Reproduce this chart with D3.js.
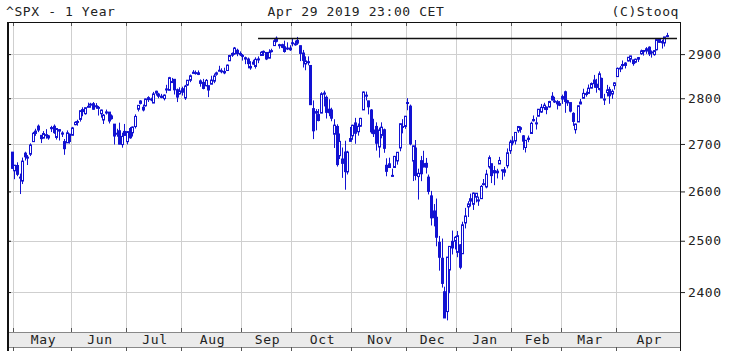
<!DOCTYPE html>
<html>
<head>
<meta charset="utf-8">
<script src="https://cdn.jsdelivr.net/npm/d3@7"></script>
<style>
  html, body { margin: 0; padding: 0; background: #fff; }
  svg { display: block; }
  text { font-family: "DejaVu Sans Mono", monospace; font-size: 13px; letter-spacing: 0.6px; fill: #222; }
</style>
</head>
<body>
<svg id="chart" width="729" height="351"></svg>
<script>
// ^SPX daily candles, [day, open, high, low, close]
const APR18 = [[30, 2682.5, 2682.9, 2648.0, 2648.1]];
const MAY18 = [
    [1, 2643.0, 2655.3, 2625.4, 2654.8], [2, 2654.2, 2660.9, 2631.7, 2635.7], [3, 2628.1, 2637.1, 2594.6, 2629.7],
    [4, 2621.5, 2670.9, 2615.3, 2663.4], [7, 2680.3, 2683.4, 2664.7, 2672.6], [8, 2670.3, 2676.3, 2655.2, 2671.9],
    [9, 2678.1, 2701.3, 2674.1, 2697.8], [10, 2705.0, 2726.1, 2704.5, 2723.1], [11, 2722.7, 2732.9, 2717.5, 2727.7],
    [14, 2738.5, 2742.1, 2725.5, 2730.1], [15, 2718.6, 2718.6, 2701.9, 2711.5], [16, 2712.6, 2727.8, 2712.2, 2722.5],
    [17, 2719.7, 2732.0, 2711.4, 2720.1], [18, 2717.4, 2719.5, 2709.2, 2713.0], [21, 2735.4, 2739.2, 2725.7, 2733.0],
    [22, 2738.3, 2742.2, 2721.9, 2724.4], [23, 2714.0, 2733.3, 2709.5, 2733.3], [24, 2730.9, 2732.0, 2707.4, 2727.8],
    [25, 2723.6, 2727.4, 2715.0, 2721.3], [29, 2705.1, 2710.7, 2676.8, 2689.9], [30, 2702.4, 2729.3, 2702.4, 2724.0],
    [31, 2721.0, 2722.5, 2700.7, 2705.3]
];
const JUN18 = [
    [1, 2718.7, 2736.9, 2718.7, 2734.6], [4, 2741.7, 2749.2, 2740.5, 2746.9], [5, 2748.5, 2752.6, 2739.5, 2748.8],
    [6, 2753.3, 2772.4, 2748.5, 2772.4], [7, 2774.8, 2779.9, 2760.2, 2770.4], [8, 2765.8, 2779.4, 2763.6, 2779.0],
    [11, 2780.2, 2790.2, 2780.2, 2782.0], [12, 2785.6, 2789.8, 2778.8, 2786.9], [13, 2787.9, 2791.5, 2774.7, 2775.6],
    [14, 2783.2, 2789.1, 2776.5, 2782.5], [15, 2777.8, 2782.8, 2761.7, 2779.7], [18, 2765.8, 2775.0, 2757.1, 2773.8],
    [19, 2752.0, 2765.1, 2743.2, 2762.6], [20, 2769.7, 2774.9, 2763.9, 2767.3], [21, 2769.3, 2769.3, 2744.4, 2749.8],
    [22, 2760.8, 2764.2, 2752.7, 2754.9], [25, 2742.9, 2742.9, 2698.7, 2717.1], [26, 2722.1, 2732.9, 2715.6, 2723.1],
    [27, 2728.5, 2746.1, 2699.4, 2699.6], [28, 2698.7, 2724.3, 2692.0, 2716.3], [29, 2727.1, 2743.3, 2718.0, 2718.4]
];
const JUL18 = [
    [2, 2705.0, 2727.3, 2699.0, 2726.7], [3, 2733.3, 2736.6, 2711.2, 2713.2], [5, 2724.2, 2737.8, 2716.0, 2736.6],
    [6, 2737.7, 2764.4, 2733.5, 2759.8], [9, 2775.6, 2784.7, 2770.7, 2784.2], [10, 2788.6, 2795.6, 2786.2, 2793.8],
    [11, 2779.8, 2785.9, 2770.8, 2774.0], [12, 2783.1, 2799.2, 2781.5, 2798.3], [13, 2796.9, 2804.5, 2791.7, 2801.3],
    [16, 2797.4, 2801.2, 2793.4, 2798.4], [17, 2789.3, 2814.2, 2789.2, 2809.6], [18, 2811.4, 2816.8, 2805.9, 2815.6],
    [19, 2809.4, 2812.1, 2799.8, 2804.5], [20, 2804.6, 2809.7, 2800.0, 2801.8], [23, 2799.2, 2808.6, 2795.1, 2807.0],
    [24, 2820.7, 2830.0, 2811.1, 2820.4], [25, 2817.7, 2848.0, 2817.7, 2846.1], [26, 2835.5, 2845.6, 2835.3, 2837.4],
    [27, 2842.4, 2843.2, 2808.3, 2818.8], [30, 2819.0, 2821.7, 2791.5, 2802.6], [31, 2809.7, 2824.5, 2808.1, 2816.3]
];
const AUG18 = [
    [1, 2821.2, 2825.8, 2805.9, 2813.4], [2, 2800.5, 2829.9, 2796.3, 2827.2], [3, 2829.6, 2840.4, 2827.4, 2840.4],
    [6, 2840.3, 2853.3, 2836.0, 2850.4], [7, 2855.9, 2863.4, 2855.9, 2858.5], [8, 2856.8, 2862.4, 2853.1, 2857.7],
    [9, 2857.2, 2862.5, 2852.0, 2853.6], [10, 2838.9, 2842.2, 2825.8, 2833.3], [13, 2835.5, 2843.4, 2819.9, 2821.9],
    [14, 2827.9, 2843.1, 2826.6, 2840.0], [15, 2828.0, 2828.0, 2802.5, 2818.4], [16, 2831.4, 2850.5, 2831.4, 2840.7],
    [17, 2838.3, 2855.6, 2833.7, 2850.1], [20, 2853.9, 2859.8, 2850.6, 2857.1], [21, 2861.5, 2873.2, 2861.3, 2863.0],
    [22, 2861.0, 2867.5, 2856.1, 2861.8], [23, 2860.3, 2868.8, 2854.0, 2857.0], [24, 2862.4, 2876.2, 2862.4, 2874.7],
    [27, 2884.7, 2898.3, 2884.7, 2896.7], [28, 2901.5, 2903.8, 2893.5, 2897.5], [29, 2900.6, 2916.5, 2898.4, 2914.0],
    [30, 2908.9, 2912.5, 2895.2, 2901.1], [31, 2898.4, 2906.3, 2895.8, 2901.5]
];
const SEP18 = [
    [4, 2897.0, 2900.2, 2885.1, 2896.7], [5, 2891.6, 2894.2, 2876.9, 2888.6], [6, 2888.6, 2892.1, 2867.3, 2878.1],
    [7, 2868.3, 2883.8, 2864.1, 2871.7], [10, 2881.4, 2886.9, 2875.9, 2877.1], [11, 2871.6, 2892.5, 2866.8, 2887.9],
    [12, 2888.3, 2894.7, 2879.2, 2888.9], [13, 2896.9, 2906.8, 2896.4, 2904.2], [14, 2906.4, 2908.3, 2895.8, 2905.0],
    [17, 2903.8, 2904.7, 2886.2, 2888.8], [18, 2890.7, 2911.2, 2890.4, 2904.3], [19, 2906.6, 2912.4, 2903.8, 2908.0],
    [20, 2919.7, 2934.8, 2919.7, 2930.8], [21, 2936.8, 2940.9, 2927.1, 2929.7], [24, 2921.8, 2923.8, 2912.6, 2919.4],
    [25, 2921.8, 2924.0, 2913.7, 2915.6], [26, 2917.0, 2931.2, 2903.3, 2906.0], [27, 2911.7, 2927.2, 2909.3, 2914.0],
    [28, 2910.0, 2920.5, 2907.5, 2914.0]
];
const OCT18 = [
    [1, 2926.3, 2937.1, 2917.9, 2924.6], [2, 2923.8, 2931.4, 2919.4, 2923.4], [3, 2931.7, 2939.9, 2921.4, 2925.5],
    [4, 2919.4, 2919.8, 2883.9, 2901.6], [5, 2902.5, 2909.6, 2869.3, 2885.6], [8, 2877.5, 2894.8, 2863.0, 2884.4],
    [9, 2882.5, 2894.8, 2874.3, 2880.3], [10, 2873.9, 2874.0, 2784.9, 2785.7], [11, 2776.9, 2795.1, 2710.5, 2728.4],
    [12, 2770.5, 2775.8, 2729.4, 2767.1], [15, 2763.8, 2776.0, 2749.0, 2750.8], [16, 2767.1, 2813.5, 2766.9, 2809.9],
    [17, 2811.7, 2816.9, 2781.8, 2809.2], [18, 2802.0, 2806.0, 2755.2, 2768.8], [19, 2775.7, 2797.8, 2760.3, 2767.8],
    [22, 2773.9, 2778.9, 2749.2, 2755.9], [23, 2721.0, 2753.6, 2691.4, 2740.7], [24, 2737.9, 2742.6, 2651.9, 2656.1],
    [25, 2674.9, 2722.7, 2667.8, 2705.6], [26, 2667.9, 2692.4, 2628.2, 2658.7], [29, 2682.7, 2706.9, 2603.5, 2641.3],
    [30, 2640.7, 2685.4, 2635.3, 2682.6], [31, 2705.6, 2736.7, 2705.6, 2711.7]
];
const NOV18 = [
    [1, 2717.6, 2741.7, 2708.9, 2740.4], [2, 2745.5, 2756.6, 2700.4, 2723.1], [5, 2726.4, 2744.3, 2717.9, 2738.3],
    [6, 2738.4, 2756.8, 2737.1, 2755.5], [7, 2774.1, 2815.2, 2774.1, 2813.9], [8, 2806.4, 2814.8, 2795.0, 2806.8],
    [9, 2794.1, 2794.1, 2764.2, 2781.0], [12, 2773.9, 2776.0, 2722.0, 2726.2], [13, 2730.1, 2754.6, 2715.0, 2722.2],
    [14, 2737.9, 2746.8, 2685.8, 2701.6], [15, 2693.5, 2735.4, 2670.8, 2730.2], [16, 2718.5, 2746.8, 2712.2, 2736.3],
    [19, 2730.7, 2733.2, 2681.1, 2690.7], [20, 2654.6, 2669.4, 2631.5, 2641.9], [21, 2657.7, 2670.7, 2649.8, 2649.9],
    [23, 2633.4, 2647.6, 2631.1, 2632.6], [26, 2650.0, 2674.4, 2650.0, 2673.5], [27, 2663.8, 2682.5, 2655.9, 2682.2],
    [28, 2691.5, 2744.0, 2684.4, 2743.8], [29, 2737.0, 2753.8, 2722.9, 2737.8], [30, 2737.8, 2760.9, 2732.8, 2760.2]
];
const DEC18 = [
    [3, 2790.5, 2800.2, 2773.4, 2790.4], [4, 2782.4, 2785.9, 2697.2, 2700.1], [6, 2663.5, 2696.2, 2621.5, 2696.0],
    [7, 2691.3, 2708.5, 2623.1, 2633.1], [10, 2630.9, 2647.5, 2583.2, 2637.7], [11, 2664.4, 2674.4, 2621.3, 2636.8],
    [12, 2658.2, 2685.4, 2650.3, 2651.1], [13, 2658.7, 2670.2, 2637.3, 2650.5], [14, 2629.7, 2635.1, 2593.8, 2600.0],
    [17, 2590.8, 2601.1, 2530.5, 2545.9], [18, 2559.9, 2574.0, 2528.7, 2546.2], [19, 2547.1, 2585.3, 2489.0, 2507.0],
    [20, 2496.8, 2509.6, 2441.2, 2467.4], [21, 2465.4, 2504.4, 2408.6, 2416.6], [24, 2400.6, 2410.3, 2351.1, 2351.1],
    [26, 2363.1, 2467.8, 2346.6, 2467.7], [27, 2442.5, 2489.1, 2397.9, 2488.8], [28, 2498.8, 2520.3, 2472.9, 2485.7],
    [31, 2498.9, 2509.2, 2482.8, 2506.9]
];
const JAN19 = [
    [2, 2477.0, 2519.5, 2467.5, 2510.0], [3, 2491.9, 2493.1, 2444.0, 2447.9], [4, 2474.3, 2538.1, 2474.3, 2531.9],
    [7, 2535.6, 2566.2, 2524.6, 2549.7], [8, 2568.1, 2579.8, 2547.6, 2574.4], [9, 2580.0, 2595.3, 2568.9, 2585.0],
    [10, 2573.5, 2597.8, 2562.0, 2596.6], [11, 2588.1, 2596.3, 2577.4, 2596.3], [14, 2580.3, 2589.3, 2570.4, 2582.6],
    [15, 2585.1, 2613.1, 2585.1, 2610.3], [16, 2614.8, 2625.8, 2612.7, 2616.1], [17, 2609.3, 2645.1, 2606.4, 2636.0],
    [18, 2651.3, 2675.5, 2647.6, 2670.7], [22, 2657.9, 2657.9, 2617.3, 2632.9], [23, 2643.5, 2653.2, 2612.9, 2638.7],
    [24, 2638.8, 2647.2, 2627.0, 2642.3], [25, 2657.4, 2672.4, 2657.3, 2664.8], [28, 2645.0, 2645.0, 2624.1, 2643.9],
    [29, 2644.9, 2650.9, 2631.1, 2640.0], [30, 2653.6, 2690.4, 2648.3, 2681.1], [31, 2685.5, 2709.0, 2678.7, 2704.1]
];
const FEB19 = [
    [1, 2702.3, 2716.7, 2696.9, 2706.5], [4, 2706.5, 2725.0, 2698.8, 2724.9], [5, 2728.3, 2739.0, 2724.0, 2737.7],
    [6, 2735.1, 2738.1, 2724.2, 2731.6], [7, 2717.5, 2719.3, 2687.3, 2706.1], [8, 2692.4, 2708.1, 2681.8, 2707.9],
    [11, 2712.4, 2718.1, 2703.8, 2709.8], [12, 2722.6, 2748.2, 2722.6, 2744.7], [13, 2750.3, 2761.9, 2748.6, 2753.0],
    [14, 2743.5, 2757.9, 2731.2, 2745.7], [15, 2760.2, 2775.7, 2760.2, 2775.6], [19, 2769.3, 2787.3, 2767.3, 2779.8],
    [20, 2779.1, 2789.9, 2774.1, 2784.7], [21, 2780.2, 2781.6, 2764.6, 2774.9], [22, 2780.7, 2794.2, 2779.1, 2792.7],
    [25, 2804.4, 2813.5, 2795.0, 2796.1], [26, 2792.4, 2803.1, 2789.5, 2793.9], [27, 2787.5, 2795.8, 2775.1, 2792.4],
    [28, 2788.1, 2793.7, 2782.5, 2784.5]
];
const MAR19 = [
    [1, 2798.2, 2808.0, 2787.4, 2803.7], [4, 2814.4, 2816.9, 2767.7, 2792.8], [5, 2794.4, 2796.4, 2783.0, 2789.7],
    [6, 2790.3, 2790.3, 2768.7, 2771.5], [7, 2766.5, 2769.0, 2739.1, 2748.9], [8, 2730.8, 2744.1, 2722.3, 2743.1],
    [11, 2747.6, 2784.0, 2747.6, 2783.3], [12, 2787.3, 2798.3, 2786.7, 2791.5], [13, 2799.8, 2821.2, 2799.8, 2810.9],
    [14, 2810.4, 2815.0, 2803.5, 2808.5], [15, 2810.8, 2830.7, 2810.8, 2822.5], [18, 2822.6, 2835.4, 2822.0, 2832.9],
    [19, 2840.8, 2852.4, 2823.3, 2832.6], [20, 2831.3, 2843.5, 2812.4, 2824.2], [21, 2819.7, 2860.3, 2817.4, 2854.9],
    [22, 2844.5, 2846.2, 2800.5, 2800.7], [25, 2796.0, 2809.8, 2785.0, 2798.4], [26, 2812.7, 2829.9, 2804.0, 2818.5],
    [27, 2819.7, 2825.6, 2787.7, 2805.4], [28, 2809.4, 2819.7, 2798.8, 2815.4], [29, 2828.3, 2836.0, 2819.2, 2834.4]
];
const APR19 = [
    [1, 2848.6, 2869.4, 2848.6, 2867.2], [2, 2868.2, 2872.9, 2858.8, 2867.2], [3, 2876.1, 2885.3, 2865.2, 2873.4],
    [4, 2874.0, 2881.3, 2867.1, 2879.4], [5, 2884.2, 2893.2, 2883.0, 2892.7], [8, 2888.5, 2896.0, 2880.8, 2895.8],
    [9, 2886.6, 2886.9, 2873.3, 2878.2], [10, 2881.4, 2889.7, 2879.1, 2888.2], [11, 2891.9, 2893.4, 2882.0, 2888.3],
    [12, 2900.9, 2910.5, 2898.4, 2907.4], [15, 2908.3, 2909.6, 2896.5, 2905.6], [16, 2912.3, 2916.1, 2900.7, 2907.1],
    [17, 2916.0, 2918.0, 2895.5, 2900.5], [18, 2904.8, 2908.4, 2891.9, 2905.0], [22, 2898.8, 2909.5, 2896.4, 2908.0],
    [23, 2910.0, 2936.3, 2908.5, 2933.7], [24, 2934.0, 2936.8, 2926.1, 2927.3], [25, 2929.0, 2933.1, 2912.8, 2926.2],
    [26, 2925.8, 2939.9, 2917.6, 2939.9], [29, 2940.6, 2949.5, 2939.4, 2943.0]
];

const MONTH_ROWS   = [APR18, MAY18, JUN18, JUL18, AUG18, SEP18, OCT18, NOV18, DEC18, JAN19, FEB19, MAR19, APR19];
const MONTH_LABELS = ["", "May", "Jun", "Jul", "Aug", "Sep", "Oct", "Nov", "Dec", "Jan", "Feb", "Mar", "Apr"];
const Y_TICKS = [2400, 2500, 2600, 2700, 2800, 2900];
const LEVEL_VALUE = 2938;       // horizontal line level
const LEVEL_FROM  = [5, 12];    // starts at Sep 12 (month slot, day)

const TITLE = "^SPX - 1 Year";
const STAMP = "Apr 29 2019 23:00 CET";
const CREDIT = "(C)Stooq";

const BLUE = "#1212d2";

// ── Layout ────────────────────────────────────────────────────────────────
const L = 7, R = 680, T = 22, B = 332, BAND_B = 347;

const candles = MONTH_ROWS.flatMap((rows, m) =>
    rows.map(r => ({ m, day: r[0], o: r[1], h: r[2], l: r[3], c: r[4] })));
candles.forEach((d, i) => d.i = i);

const x = d3.scaleLinear().domain([-1.8, 255]).range([L, R]);
const y = d3.scaleLog().domain([2325, 2975]).range([B, T]);

// first candle index of each month
const monthStarts = MONTH_ROWS.map((_, m) => candles.find(d => d.m === m).i);
const bounds = monthStarts.slice(1);   // May..Apr
const bx = i => Math.round(x(i) - 1) + 0.5;

const svg = d3.select("#chart");

// ── Header ────────────────────────────────────────────────────────────────
svg.append("text").attr("x", 6).attr("y", 16).text(TITLE);
svg.append("text").attr("x", 356).attr("y", 16).attr("text-anchor", "middle").text(STAMP);
svg.append("text").attr("x", 679).attr("y", 16).attr("text-anchor", "end").text(CREDIT);

// ── Grid ──────────────────────────────────────────────────────────────────
const grid = svg.append("g").attr("shape-rendering", "crispEdges").attr("stroke", "#cfcfcf");
grid.selectAll(".gy").data(Y_TICKS).join("line")
    .attr("x1", L).attr("x2", R)
    .attr("y1", d => Math.round(y(d)) + 0.5).attr("y2", d => Math.round(y(d)) + 0.5);
grid.selectAll(".gx").data(bounds).join("line")
    .attr("x1", bx).attr("x2", bx).attr("y1", T).attr("y2", B);

// ── Month band ────────────────────────────────────────────────────────────
svg.append("rect").attr("x", L).attr("y", B).attr("width", R - L).attr("height", BAND_B - B)
    .attr("fill", "#ebebeb");
const edges = svg.append("g").attr("stroke", "#555").attr("shape-rendering", "crispEdges");
edges.append("line").attr("x1", L).attr("x2", R).attr("y1", B + 0.5).attr("y2", B + 0.5).attr("stroke", "#888");
edges.append("line").attr("x1", L).attr("x2", R).attr("y1", BAND_B + 0.5).attr("y2", BAND_B + 0.5).attr("stroke", "#888");
// small month ticks: top, above band, below band
edges.selectAll(".t1").data(bounds).join("line").attr("x1", bx).attr("x2", bx).attr("y1", T).attr("y2", T + 4);
edges.selectAll(".t2").data(bounds).join("line").attr("x1", bx).attr("x2", bx).attr("y1", B - 4).attr("y2", B);
edges.selectAll(".t3").data(bounds).join("line").attr("x1", bx).attr("x2", bx).attr("y1", BAND_B).attr("y2", 351);

svg.append("g").selectAll("text").data(bounds).join("text")
    .attr("x", (d, k) => ((k + 1 < bounds.length ? bx(bounds[k + 1]) : R) + bx(d)) / 2 + 1)
    .attr("y", 344)
    .attr("text-anchor", "middle")
    .text((d, k) => MONTH_LABELS[k + 1]);

// ── Y axis (right) ────────────────────────────────────────────────────────
const yAxis = svg.append("g").attr("transform", `translate(${R},0)`)
    .call(d3.axisRight(y).tickValues(Y_TICKS).tickSize(5).tickPadding(3).tickFormat(d3.format("d")));
yAxis.select(".domain").remove();
yAxis.selectAll("line").attr("stroke", "#222");
yAxis.selectAll("text").attr("font-family", null).attr("font-size", null).attr("fill", "#222");

const yLeft = svg.append("g").attr("transform", `translate(${L},0)`)
    .call(d3.axisRight(y).tickValues(Y_TICKS).tickSize(4).tickFormat(""));
yLeft.select(".domain").remove();
yLeft.selectAll("line").attr("stroke", "#222");

// ── Candles ───────────────────────────────────────────────────────────────
const cg = svg.append("g");
cg.selectAll(".wick").data(candles).join("line")
    .attr("x1", d => Math.round(x(d.i)) + 0.5).attr("x2", d => Math.round(x(d.i)) + 0.5)
    .attr("y1", d => y(d.h)).attr("y2", d => y(d.l))
    .attr("stroke", BLUE).attr("stroke-width", 1);
cg.selectAll(".body").data(candles).join("rect")
    .attr("x", d => Math.round(x(d.i)) - 0.5)
    .attr("width", 2)
    .attr("y", d => y(Math.max(d.o, d.c)))
    .attr("height", d => Math.max(1, Math.abs(y(d.o) - y(d.c))))
    .attr("fill", d => d.c >= d.o ? "#fff" : BLUE)
    .attr("stroke", BLUE).attr("stroke-width", 1);

// ── Level line ────────────────────────────────────────────────────────────
const fromIdx = candles.find(d => d.m === LEVEL_FROM[0] && d.day === LEVEL_FROM[1]).i;
svg.append("line")
    .attr("x1", x(fromIdx)).attr("x2", R - 3)
    .attr("y1", Math.round(y(LEVEL_VALUE)) + 0.5).attr("y2", Math.round(y(LEVEL_VALUE)) + 0.5)
    .attr("stroke", "#111").attr("stroke-width", 1.4);

// ── Frame ─────────────────────────────────────────────────────────────────
const frame = svg.append("g").attr("stroke", "#111").attr("shape-rendering", "crispEdges");
frame.append("line").attr("x1", L).attr("x2", R).attr("y1", T + 0.5).attr("y2", T + 0.5);
frame.append("line").attr("x1", L + 0.5).attr("x2", L + 0.5).attr("y1", T).attr("y2", 351).attr("stroke-width", 2);
frame.append("line").attr("x1", R + 0.5).attr("x2", R + 0.5).attr("y1", T).attr("y2", 351);
</script>
</body>
</html>
